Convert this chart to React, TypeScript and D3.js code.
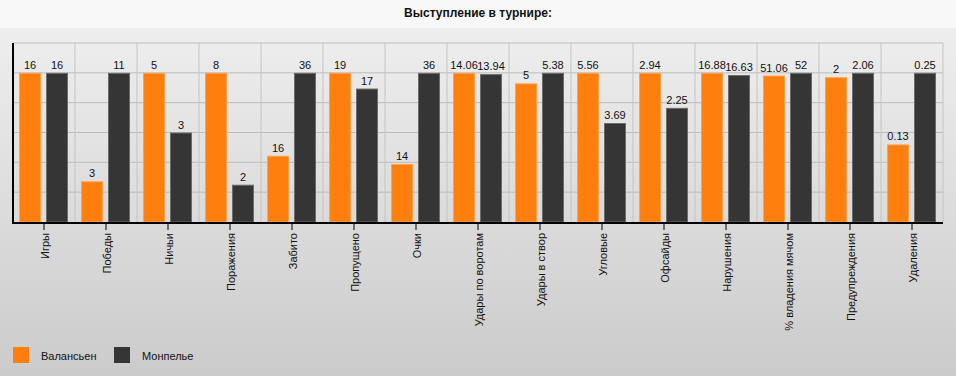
import React from "react";
import * as d3 from "d3";

const categories = [
  "Игры", "Победы", "Ничьи", "Поражения", "Забито", "Пропущено", "Очки",
  "Удары по воротам", "Удары в створ", "Угловые", "Офсайды", "Нарушения",
  "% владения мячом", "Предупреждения", "Удаления",
];
const seriesNames = ["Валансьен", "Монпелье"];
const valenciennes = [16, 3, 5, 8, 16, 19, 14, 14.06, 5, 5.56, 2.94, 16.88, 51.06, 2, 0.13];
const montpellier = [16, 11, 3, 2, 36, 17, 36, 13.94, 5.38, 3.69, 2.25, 16.63, 52, 2.06, 0.25];
const gridTicks = [20, 40, 60, 80, 100, 120];
const title = "Выступление в турнире:";

const W = 956, H = 376;
const colors = ["#ff7f0e", "#353535"];
const strokes = ["#ffa24f", "#6b6b6b"];
const FONT = "'Liberation Sans', Arial, sans-serif";

export default function App() {
  React.useEffect(() => { document.body.style.margin = "0"; }, []);
  const left = 13, right = 943, top = 43, bottom = 222;
  const x = d3.scaleBand<string>().domain(categories).range([left, right]).padding(0);
  const xs = d3.scaleBand<string>().domain(seriesNames).range([6, 55]).paddingInner(5 / 27).paddingOuter(0);
  const y = d3.scaleLinear().domain([0, 120]).range([bottom, top]);
  const series = [valenciennes, montpellier];

  return (
    <svg width={W} height={H} style={{ position: "absolute", left: 0, top: 0, fontFamily: FONT }}>
      <defs>
        <linearGradient id="bg" x1="0" y1="0" x2="0" y2="1">
          <stop offset="0" stopColor="#eeeeee" />
          <stop offset="1" stopColor="#cbcbcb" />
        </linearGradient>
      </defs>
      <rect x={0} y={28} width={W} height={H - 28} fill="url(#bg)" />
      <rect x={0} y={0} width={W} height={28} fill="#f8f8f8" />
      <text x={W / 2} y={17} textAnchor="middle" fontWeight="bold" fontSize={12} fill="#111">{title}</text>

      {gridTicks.map((t) => (
        <line key={t} x1={left} x2={right} y1={y(t)} y2={y(t)} stroke="#bcbcbc" strokeWidth={1} />
      ))}
      {categories.map((c) => (
        <line key={"v" + c} x1={(x(c) ?? 0) + x.bandwidth()} x2={(x(c) ?? 0) + x.bandwidth()} y1={top} y2={bottom} stroke="#c4c4c4" strokeWidth={1} />
      ))}

      {categories.map((c, i) => {
        const mx = Math.max(valenciennes[i], montpellier[i]);
        return (
          <g key={"b" + c} transform={`translate(${x(c)},0)`}>
            {series.map((s, k) => {
              const pct = (s[i] / mx) * 100;
              const bx = xs(seriesNames[k]) ?? 0;
              const by = y(pct);
              return (
                <g key={k}>
                  <rect x={bx + 0.5} y={by + 0.5} width={xs.bandwidth() - 1} height={bottom - by - 0.5} fill={colors[k]} stroke={strokes[k]} strokeWidth={1} />
                  <text x={bx + xs.bandwidth() / 2} y={by - 4} textAnchor="middle" fontSize={11} fill="#111">{String(s[i])}</text>
                </g>
              );
            })}
          </g>
        );
      })}

      <line x1={left} x2={left} y1={top} y2={bottom + 2} stroke="#000" strokeWidth={2} />
      <line x1={left - 1} x2={right} y1={bottom + 1} y2={bottom + 1} stroke="#000" strokeWidth={2} />
      {categories.map((c) => {
        const cx = (x(c) ?? 0) + x.bandwidth() / 2;
        return (
          <g key={"t" + c}>
            <line x1={cx} x2={cx} y1={bottom + 1} y2={bottom + 8} stroke="#000" strokeWidth={1} />
            <text transform={`translate(${cx + 1},${233}) rotate(-90)`} textAnchor="end" dy="0.35em" fontSize={11} fill="#111">{c}</text>
          </g>
        );
      })}

      {seriesNames.map((n, k) => (
        <g key={"l" + n} transform={`translate(${13 + k * 101},347)`}>
          <rect x={0} y={0} width={16} height={16} fill={colors[k]} />
          <text x={28} y={9} dy="0.35em" fontSize={11} fill="#111">{n}</text>
        </g>
      ))}
    </svg>
  );
}
